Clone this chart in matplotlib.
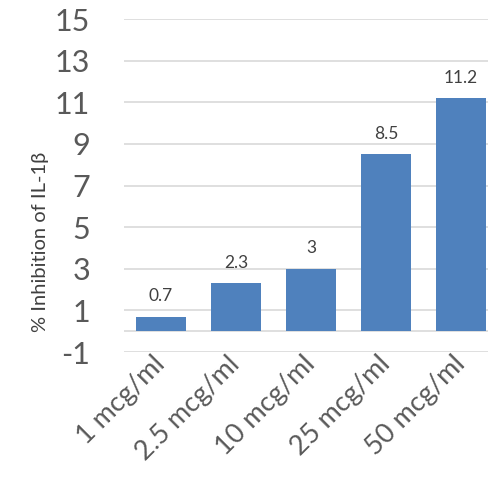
import numpy as np
import matplotlib
matplotlib.use('Agg')
import matplotlib.pyplot as plt

plt.rcParams['font.family'] = ['Lato', 'DejaVu Sans']
plt.rcParams['axes.unicode_minus'] = False

doses = ['1 mcg/ml', '2.5 mcg/ml', '10 mcg/ml', '25 mcg/ml', '50 mcg/ml']
inhibition = [0.7, 2.3, 3, 8.5, 11.2]
yticks = [-1, 1, 3, 5, 7, 9, 11, 13, 15]

bar_color = '#4F81BD'
grid_color = '#D9D9D9'
text_color = '#595959'

fig = plt.figure(figsize=(4.88, 4.83), dpi=100)
ax = fig.add_axes([123.5 / 488, 131 / 483, (488 - 123.5) / 488, 333 / 483])

x = np.arange(len(doses))
bars = ax.bar(x, inhibition, width=0.667, color=bar_color, zorder=3)

for xi, v in zip(x, inhibition):
    ax.annotate('%g' % v, (xi, v), xytext=(0, 9), textcoords='offset points',
                ha='center', va='bottom', fontsize=12.5, color='#404040')

ax.set_xlim(-0.5, 4.36)
ax.set_ylim(-1, 15)
ax.set_yticks(yticks)
ax.yaxis.grid(True, color=grid_color, linewidth=1.2, zorder=0)
ax.axhline(0, color=grid_color, linewidth=1.2, zorder=1)
for s in ax.spines.values():
    s.set_visible(False)

ax.tick_params(axis='y', length=0, pad=24, labelsize=22, labelcolor=text_color)
ax.tick_params(axis='x', length=0, pad=6, labelsize=19.5, labelcolor=text_color)
ax.set_xticks(x)
ax.set_xticklabels(doses, rotation=45, ha='right', va='center',
                   rotation_mode='anchor')

ax.set_ylabel('% Inhibition of IL-1β', fontsize=14.5, color='#404040')
ax.yaxis.set_label_coords(-0.205, 0.33)

fig.savefig('out.png', dpi=100)
